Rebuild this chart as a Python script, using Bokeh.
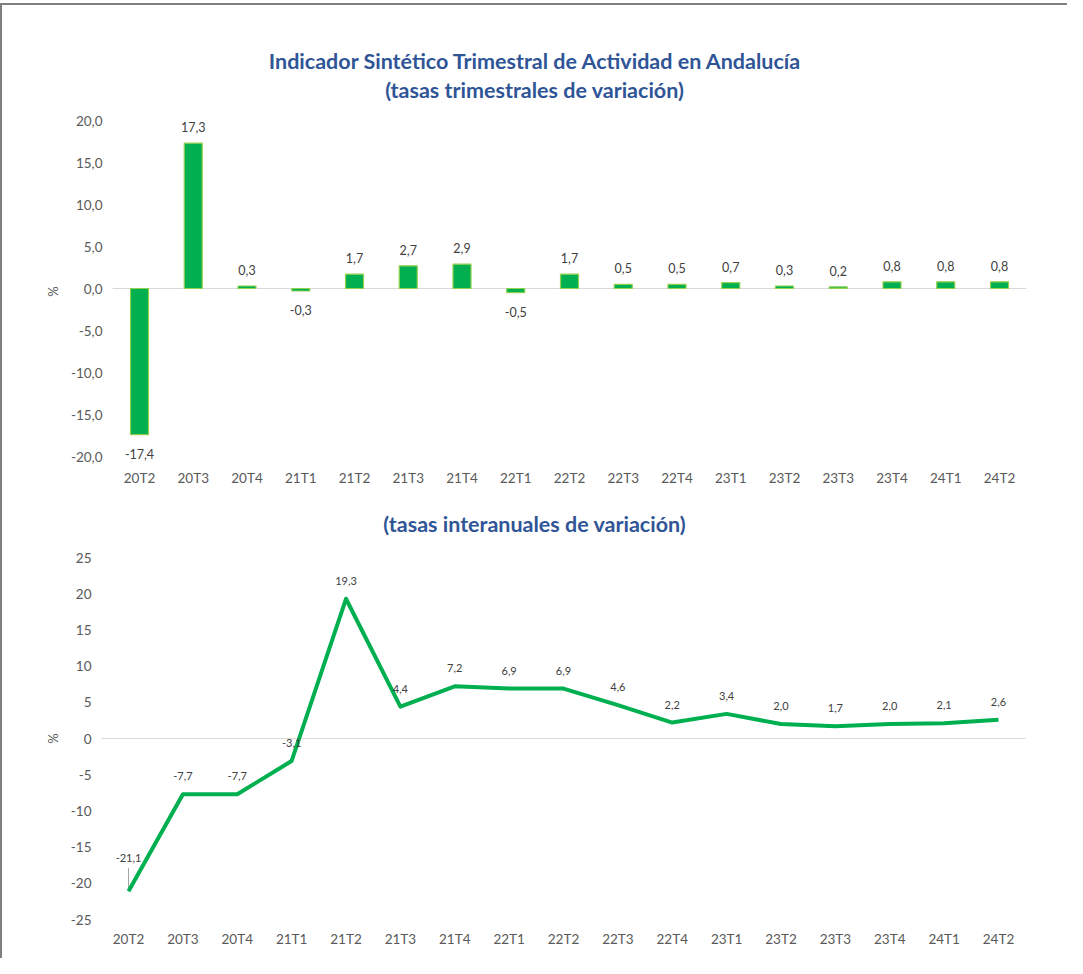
from bokeh.plotting import figure
from bokeh.models import Range1d, FixedTicker, ColumnDataSource, Div
from bokeh.layouts import column
from bokeh.embed import file_html
from bokeh.resources import INLINE
from bokeh.core.properties import value

# ---------------- data ----------------
categories = ["20T2", "20T3", "20T4", "21T1", "21T2", "21T3", "21T4", "22T1", "22T2",
              "22T3", "22T4", "23T1", "23T2", "23T3", "23T4", "24T1", "24T2"]
trimestral = [-17.4, 17.3, 0.3, -0.3, 1.7, 2.7, 2.9, -0.5, 1.7,
              0.5, 0.5, 0.7, 0.3, 0.2, 0.8, 0.8, 0.8]
interanual = [-21.1, -7.7, -7.7, -3.1, 19.3, 4.4, 7.2, 6.9, 6.9,
              4.6, 2.2, 3.4, 2.0, 1.7, 2.0, 2.1, 2.6]
title_line1 = "Indicador Sintético Trimestral de Actividad en Andalucía"
title_line2 = "(tasas trimestrales de variación)"
title_bottom = "(tasas interanuales de variación)"
y_ticks_top = [-20, -15, -10, -5, 0, 5, 10, 15, 20]
y_ticks_bottom = [-25, -20, -15, -10, -5, 0, 5, 10, 15, 20, 25]
y_axis_label = "%"

FONT = "Lato"
TITLE_COLOR = "#2F5597"
TICK_COLOR = "#595959"
LABEL_COLOR = "#404040"
GREEN = "#00B050"
LIGHT_GREEN = "#92D050"

idx = list(range(len(categories)))

# layout (pixels)
TOTAL_W = 1065
FRAME_W = 928
BORDER_L = 98
BORDER_R = TOTAL_W - FRAME_W - BORDER_L


def fmt(v, d=1):
    return f"{v:.{d}f}".replace(".", ",")


def x_range_for(first_px, step_px):
    # first_px: distance of the first category centre from the frame's left edge
    start = -first_px / step_px
    return Range1d(start, start + FRAME_W / step_px)


def title_div(lines, height, pad_top):
    html = (f'<div style="width:{TOTAL_W}px;height:{height}px;box-sizing:border-box;'
            f'padding-top:{pad_top}px;text-align:center;font-family:{FONT};font-weight:bold;'
            f'font-size:21.5px;line-height:29px;color:{TITLE_COLOR};white-space:nowrap">'
            + "<br>".join(lines) + "</div>")
    return Div(text=html, width=TOTAL_W, height=height, margin=0)


def style(p, ticks, decimals, ylab_standoff, xlab_standoff):
    p.xgrid.visible = False
    p.ygrid.visible = False
    p.outline_line_color = None
    for ax in (p.xaxis[0], p.yaxis[0]):
        ax.axis_line_color = None
        ax.major_tick_line_color = None
        ax.minor_tick_line_color = None
        ax.major_tick_out = 0
        ax.major_tick_in = 0
        ax.minor_tick_out = 0
        ax.minor_tick_in = 0
        ax.major_label_text_font = FONT
        ax.major_label_text_color = TICK_COLOR
        ax.major_label_text_font_size = "13.5px"
    p.xaxis.ticker = FixedTicker(ticks=idx)
    p.xaxis.major_label_overrides = {i: c for i, c in zip(idx, categories)}
    p.yaxis.ticker = FixedTicker(ticks=ticks)
    p.yaxis.major_label_overrides = {t: fmt(t, decimals) for t in ticks}
    p.yaxis.major_label_standoff = ylab_standoff
    p.xaxis.major_label_standoff = xlab_standoff
    p.yaxis.axis_label = y_axis_label
    p.yaxis.axis_label_text_font = FONT
    p.yaxis.axis_label_text_font_style = "normal"
    p.yaxis.axis_label_text_font_size = "13px"
    p.yaxis.axis_label_text_color = TICK_COLOR
    p.yaxis.axis_label_standoff = 7
    # zero line spanning the category band
    p.segment(x0=[idx[0] - 0.5], y0=[0], x1=[idx[-1] + 0.5], y1=[0],
              line_color="#D9D9D9", line_width=1)


# ---------------- top chart: bars ----------------
TOP_SCALE = 8.4  # px per unit
top_frame_h = 342
p1 = figure(x_range=x_range_for(39, 53.75),
            y_range=Range1d(20 - top_frame_h / TOP_SCALE, 20),
            frame_width=FRAME_W, frame_height=top_frame_h,
            min_border_left=BORDER_L, min_border_right=BORDER_R,
            min_border_top=10, min_border_bottom=35,
            output_backend="svg", toolbar_location=None)
style(p1, y_ticks_top, 1, -2, 7)

src1 = ColumnDataSource(dict(
    x=idx, top=trimestral,
    label=[fmt(v) for v in trimestral],
    off=[-16 if v >= 0 else 19 for v in trimestral],
))
p1.vbar(x="x", top="top", bottom=0, width=0.335, source=src1,
        fill_color=GREEN, line_color=LIGHT_GREEN, line_width=1.2)
p1.text(x="x", y="top", text="label", y_offset="off", source=src1,
        text_align="center", text_baseline="middle",
        text_font=value(FONT), text_font_size="12.5px", text_color=LABEL_COLOR)

# ---------------- bottom chart: line ----------------
p2 = figure(x_range=x_range_for(28, 54.375), y_range=Range1d(-25, 25),
            frame_width=FRAME_W, frame_height=362,
            min_border_left=BORDER_L, min_border_right=BORDER_R,
            min_border_top=18, min_border_bottom=39,
            output_backend="svg", toolbar_location=None)
style(p2, y_ticks_bottom, 0, 9, 11)

src2 = ColumnDataSource(dict(
    x=idx, y=interanual,
    label=[fmt(v) for v in interanual],
    off=[-33 if i == 0 else -18 for i in idx],
))
# leader line of the displaced first label
p2.segment(x0=[idx[0]], y0=[interanual[0]], x1=[idx[0]], y1=[interanual[0] + 3.2],
           line_color="#A6A6A6", line_width=1)
p2.line(x="x", y="y", source=src2, line_color=GREEN, line_width=4, line_join="round")
p2.text(x="x", y="y", text="label", y_offset="off", source=src2,
        text_align="center", text_baseline="middle",
        text_font=value(FONT), text_font_size="11px", text_color=LABEL_COLOR)

div_top = title_div([title_line1, title_line2], 105, 42)
div_bottom = title_div([title_bottom], 42, 13)

layout = column(div_top, p1, div_bottom, p2, spacing=0,
                styles={"border-top": "2px solid #7F7F7F", "border-left": "2px solid #7F7F7F",
                        "margin-top": "3px"})

open("out.html", "w").write(file_html(layout, INLINE))
